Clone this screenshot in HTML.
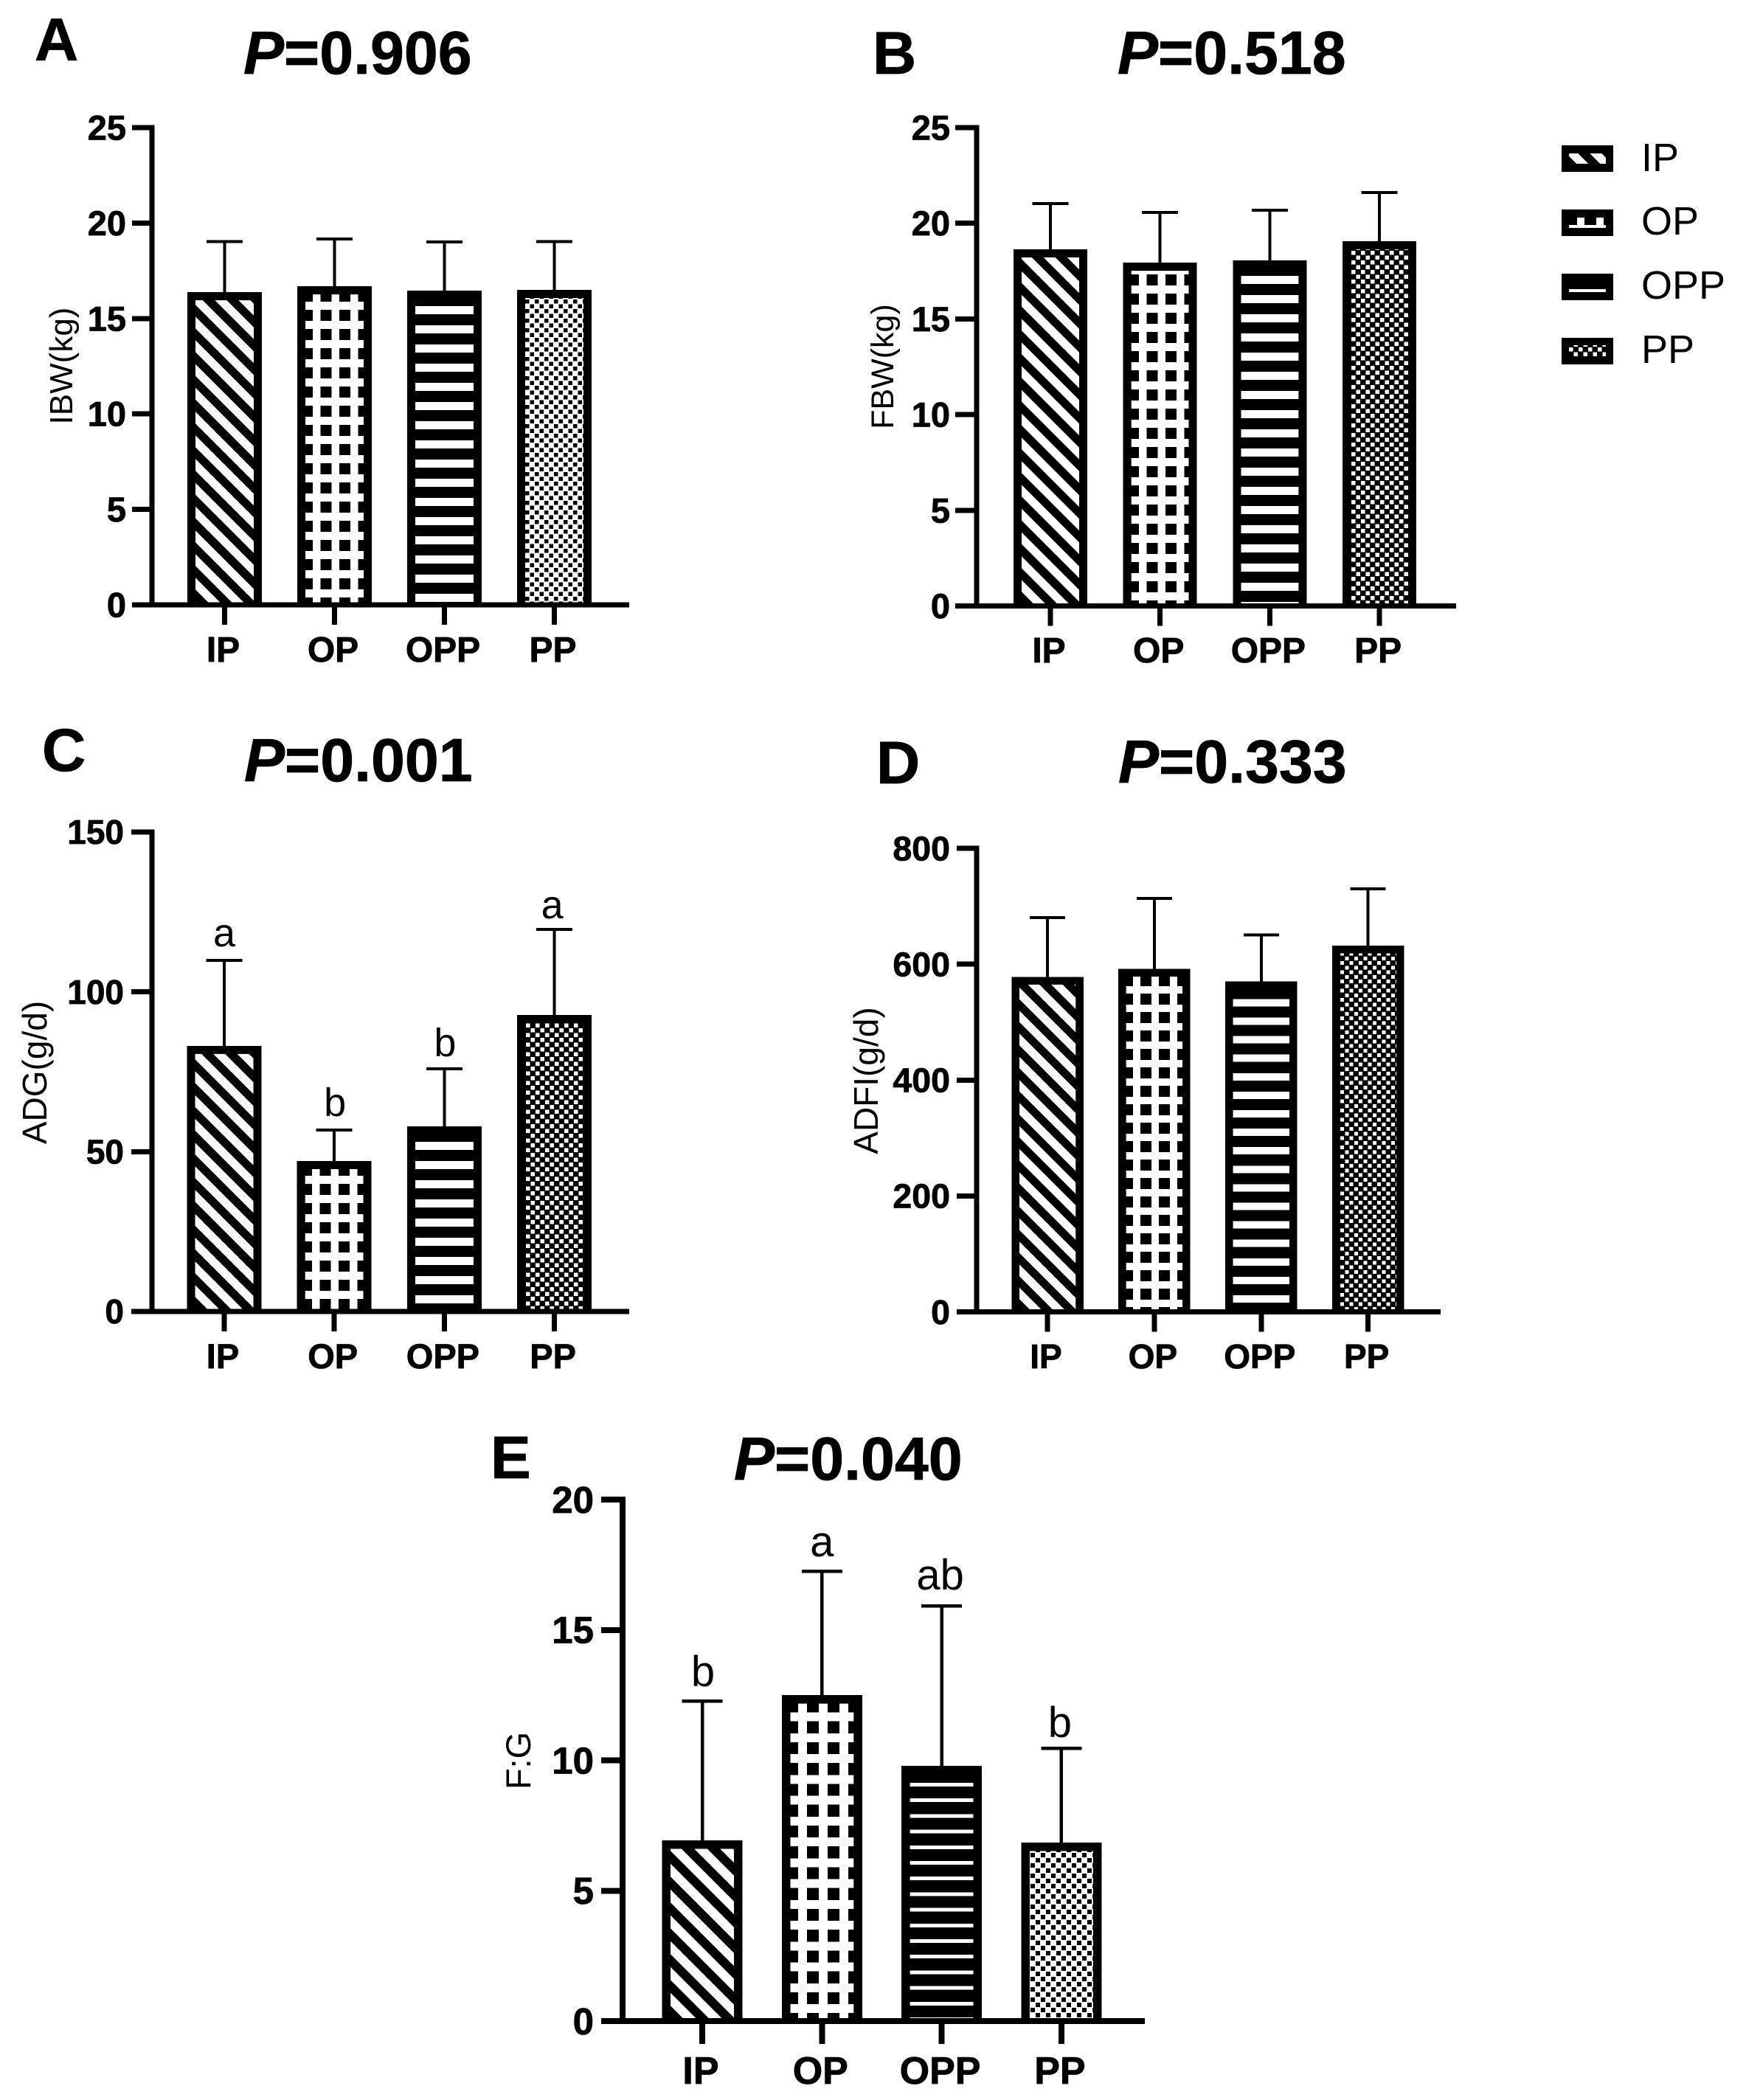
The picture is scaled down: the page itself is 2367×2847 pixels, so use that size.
<!DOCTYPE html>
<html lang="en">
<head>
<meta charset="utf-8">
<title>Growth performance bar charts</title>
<style>
html,body{margin:0;padding:0;background:#fff;}
svg{display:block;}
text{font-family:"Liberation Sans",Arial,sans-serif;fill:#000;}
.lab{font-size:82px;font-weight:700;stroke:#000;stroke-width:0.8px;}
.ttl{font-size:82.5px;font-weight:700;stroke:#000;stroke-width:0.8px;}
.ttl tspan{font-style:italic;}
.axt{font-size:44px;}
.leg{font-size:54px;}
.bold-label{stroke:#000;stroke-width:0.8px;}
</style>
</head>
<body>
<svg id="fig" xmlns="http://www.w3.org/2000/svg" width="2367" height="2847" viewBox="0 0 2367 2847">
  <rect x="0" y="0" width="2367" height="2847" fill="#fff"/>

  <text class="lab" x="47" y="82">A</text>
  <text class="lab" x="1183" y="100">B</text>
  <text class="lab" x="57" y="1045">C</text>
  <text class="lab" x="1188" y="1062">D</text>
  <text class="lab" x="665" y="2004">E</text>

  <text class="ttl" x="330" y="100"><tspan>P</tspan>=0.906</text>
  <text class="ttl" x="1515" y="100"><tspan>P</tspan>=0.518</text>
  <text class="ttl" x="331" y="1059"><tspan>P</tspan>=0.001</text>
  <text class="ttl" x="1516" y="1061"><tspan>P</tspan>=0.333</text>
  <text class="ttl" x="995" y="2006"><tspan>P</tspan>=0.040</text>

  <text class="axt" text-anchor="middle" transform="translate(98,496) rotate(-90)">IBW(kg)</text>
  <text class="axt" text-anchor="middle" style="font-size:43px" transform="translate(1211,497) rotate(-90)">FBW(kg)</text>
  <text class="axt" text-anchor="middle" style="font-size:46px" transform="translate(63,1454) rotate(-90)">ADG(g/d)</text>
  <text class="axt" text-anchor="middle" style="font-size:46px" transform="translate(1190,1465) rotate(-90)">ADFI(g/d)</text>
  <text class="axt" text-anchor="middle" style="font-size:47px" transform="translate(719,2387) rotate(-90)">F:G</text>

  <g>
    <text class="leg" x="2225" y="232">IP</text>
    <text class="leg" x="2225" y="318">OP</text>
    <text class="leg" x="2225" y="405">OPP</text>
    <text class="leg" x="2225" y="492">PP</text>
  </g>
</svg>
<script>
// ---- chart data ----
const categories = ['IP', 'OP', 'OPP', 'PP'];

const ibwMeans = [16.38, 16.69, 16.46, 16.50];
const ibwErrorTops = [19.0, 19.13, 18.97, 19.0];
const ibwTicks = [0, 5, 10, 15, 20, 25];

const fbwMeans = [18.64, 17.94, 18.06, 19.06];
const fbwErrorTops = [20.99, 20.53, 20.64, 21.57];
const fbwTicks = [0, 5, 10, 15, 20, 25];

const adgMeans = [83.1, 47.1, 57.9, 92.8];
const adgErrorTops = [109.6, 56.5, 75.7, 119.3];
const adgLetters = ['a', 'b', 'b', 'a'];
const adgTicks = [0, 50, 100, 150];

const adfiMeans = [578, 592, 570, 632];
const adfiErrorTops = [679, 712, 649, 729];
const adfiTicks = [0, 200, 400, 600, 800];

const fgMeans = [6.93, 12.5, 9.79, 6.85];
const fgErrorTops = [12.25, 17.23, 15.9, 10.44];
const fgLetters = ['b', 'a', 'ab', 'b'];
const fgTicks = [0, 5, 10, 15, 20];

// ---- drawing helpers ----
const SVGNS = 'http://www.w3.org/2000/svg';
const fig = document.getElementById('fig');
const defs = document.createElementNS(SVGNS, 'defs');
fig.appendChild(defs);
let clipCount = 0;

function make(tag, attrs, parent) {
  const el = document.createElementNS(SVGNS, tag);
  for (const k in attrs) el.setAttribute(k, attrs[k]);
  parent.appendChild(el);
  return el;
}
function rectPath(x, y, w, h) {
  return 'M' + x + ' ' + y + 'h' + w + 'v' + h + 'h' + (-w) + 'z';
}
function startIndex(from, origin, period) {
  return Math.floor((from - origin) / period) - 1;
}
// pattern path builders; each returns the path for the inner rectangle (l,t,r,b)
function diagPath(p, l, t, r, b) {
  let d = '';
  const c = p.y - p.x;
  const low = t - r - c, high = b - l - c;
  for (let k = Math.floor(low / p.P) - 1; k * p.P <= high; k++) {
    const o = c + k * p.P;
    d += 'M' + l + ' ' + (l + o) + 'L' + r + ' ' + (r + o) + 'L' + r + ' ' + (r + o + p.W) + 'L' + l + ' ' + (l + o + p.W) + 'z';
  }
  return d;
}
function barsPath(p, l, t, r, b) {
  let d = '';
  for (let k = startIndex(t, p.y, p.P); p.y + k * p.P < b; k++) {
    d += rectPath(l, p.y + k * p.P, r - l, p.h);
  }
  return d;
}
function gridPath(p, l, t, r, b) {
  let d = barsPath({ y: p.y, P: p.Py, h: p.h }, l, t, r, b);
  for (let k = startIndex(l, p.x, p.Px); p.x + k * p.Px < r; k++) {
    d += rectPath(p.x + k * p.Px, t, p.w, b - t);
  }
  return d;
}
function checkPath(p, l, t, r, b) {
  let d = '';
  const half = p.P / 2;
  for (let j = startIndex(t, p.y, half); p.y + j * half < b; j++) {
    const shift = ((j % 2) + 2) % 2 ? half : 0;
    for (let i = startIndex(l, p.x, p.P); p.x + shift + i * p.P < r; i++) {
      d += rectPath(p.x + shift + i * p.P, p.y + j * half, p.s, p.s);
    }
  }
  return d;
}
// black outlined box with a clipped pattern inside
function patternedBox(parent, name, x, y, w, h, stroke, strokeV, bottomInset, kind, p) {
  const l = x + stroke, r = x + w - stroke, t = y + strokeV, b = y + h - bottomInset;
  const box = make('rect', { x: x, y: y, width: w, height: h, fill: '#000' }, parent);
  
  
  if (b <= t) return;
  const id = 'clip' + (clipCount++);
  const cp = make('clipPath', { id: id }, defs);
  make('rect', { x: l, y: t, width: r - l, height: b - t }, cp);
  const g = make('g', { 'clip-path': 'url(#' + id + ')' }, parent);
  
  
  let d;
  if (kind === 'diag') d = diagPath(p, l, t, r, b);
  if (kind === 'bars') d = barsPath(p, l, t, r, b);
  if (kind === 'grid') d = gridPath(p, l, t, r, b);
  if (kind === 'check') d = checkPath(p, l, t, r, b);
  if (kind === 'check' && p.onWhite) {
    make('rect', { x: l, y: t, width: r - l, height: b - t, fill: '#fff' }, g);
    make('path', { d: d, fill: '#000' }, g);
  } else {
    make('path', { d: d, fill: '#fff' }, g);
  }
}

function drawPanel(cfg, means, errorTops, ticks, letters) {
  const y = v => cfg.base - v / ticks[ticks.length - 1] * (cfg.base - cfg.top);
  const x = i => cfg.x0 + i * cfg.step;
  const kinds = ['diag', 'grid', 'bars', 'check'];
  const patterns = [cfg.diag, cfg.grid, cfg.bars, cfg.check];

  const panel = make('g', { 'shape-rendering': 'crispEdges' }, fig);
  
  

  means.forEach((m, i) => {
    const cx = x(i), top = y(m), eTop = y(errorTops[i]) - 3;
    const key = cfg.name + '-' + categories[i].toLowerCase();

    const stem = make('rect', { x: cx - cfg.err / 2, y: eTop, width: cfg.err, height: top - eTop + 2, fill: '#000' }, panel);
    
    

    const cap = make('rect', { x: cx - cfg.cap / 2, y: eTop, width: cfg.cap, height: cfg.err, fill: '#000' }, panel);
    
    

    patternedBox(panel, 'bar-' + key, cx - cfg.bw / 2, top, cfg.bw, cfg.base - top, cfg.stroke, cfg.stroke, 0, kinds[i], patterns[i]);

    if (letters) {
      const s = make('text', { x: cx + cfg.letterNudgeX[i], y: eTop - cfg.letterGap + cfg.letterNudgeY[i], 'text-anchor': 'middle', 'font-size': cfg.letterSize }, fig);
      s.textContent = letters[i];
      
      
    }

    const tick = make('rect', { x: cx - cfg.axis / 2, y: cfg.base, width: cfg.axis, height: cfg.tickLen, fill: '#000' }, panel);
    
    

    const lab = make('text', { x: cx - 2, y: cfg.catY, 'text-anchor': 'middle', 'font-size': cfg.catSize, 'font-weight': 700, 'class': 'bold-label' }, fig);
    lab.textContent = categories[i];
    
    
  });

  const yAxis = make('rect', { x: cfg.axisX - cfg.axis / 2, y: cfg.top - cfg.axis / 2, width: cfg.axis, height: cfg.base - cfg.top + cfg.axis, fill: '#000' }, panel);
  
  

  const xAxis = make('rect', { x: cfg.tickLeft, y: cfg.base - cfg.axis / 2, width: cfg.axisEnd - cfg.tickLeft, height: cfg.axis, fill: '#000' }, panel);
  
  

  ticks.forEach(t => {
    const ty = y(t);
    const tk = make('rect', { x: cfg.tickLeft, y: ty - cfg.axis / 2, width: cfg.axisX - cfg.tickLeft, height: cfg.axis, fill: '#000' }, panel);
    
    

    const tl = make('text', { x: cfg.labelRight, y: ty + cfg.tickSize * 0.35, 'text-anchor': 'end', 'font-size': cfg.tickSize, 'font-weight': 700, 'class': 'bold-label' }, fig);
    tl.textContent = String(t);
    
    
  });
}

// ---- panels ----
drawPanel({
  name: 'a', top: 173, base: 820, x0: 304.5, step: 149, bw: 101, stroke: 11, err: 4, cap: 49, axis: 7,
  axisX: 206, tickLeft: 179, axisEnd: 853, tickLen: 27, labelRight: 171, tickSize: 47, catY: 897, catSize: 48,
  diag: { x: 265, y: 429.3, P: 32.2, W: 16 },
  grid: { x: 424, Px: 25.5, w: 10.5, y: 409, Py: 26, h: 11 },
  bars: { y: 415, P: 26, h: 11 },
  check: { x: 725, y: 406, P: 13, s: 5.5, onWhite: true }
}, ibwMeans, ibwErrorTops, ibwTicks);

drawPanel({
  name: 'b', top: 173, base: 821.5, x0: 1424, step: 148.7, bw: 100, stroke: 11, err: 4, cap: 49, axis: 7,
  axisX: 1324, tickLeft: 1295, axisEnd: 1974, tickLen: 27, labelRight: 1288, tickSize: 47, catY: 898, catSize: 48,
  diag: { x: 1385, y: 818.5, P: 32.2, W: 16 },
  grid: { x: 1544, Px: 25.5, w: 10.5, y: 803, Py: 26, h: 11 },
  bars: { y: 374, P: 26, h: 11 },
  check: { x: 1832, y: 340, P: 13, s: 5.5, onWhite: false }
}, fbwMeans, fbwErrorTops, fbwTicks);

drawPanel({
  name: 'c', top: 1128, base: 1778, x0: 304, step: 149.2, bw: 101, stroke: 11, err: 4, cap: 49, axis: 7,
  axisX: 206, tickLeft: 178, axisEnd: 853, tickLen: 27, labelRight: 168, tickSize: 46, catY: 1855, catSize: 47,
  letterGap: 15, letterSize: 54, letterNudgeX: [0, 1, 1, -3], letterNudgeY: [-2, -2, 0, 2],
  diag: { x: 264, y: 1774, P: 32.2, W: 16 },
  grid: { x: 423, Px: 25.5, w: 10.5, y: 1750, Py: 26, h: 11 },
  bars: { y: 1548, P: 26, h: 11 },
  check: { x: 713, y: 1777.5, P: 13, s: 5.5, onWhite: false }
}, adgMeans, adgErrorTops, adgTicks, adgLetters);

drawPanel({
  name: 'd', top: 1150, base: 1778.5, x0: 1420, step: 144.9, bw: 97.5, stroke: 10.5, err: 4, cap: 48, axis: 7,
  axisX: 1324, tickLeft: 1297, axisEnd: 1953, tickLen: 27, labelRight: 1288, tickSize: 46.5, catY: 1855, catSize: 46,
  diag: { x: 1382, y: 1526.7, P: 31.3, W: 15.7 },
  grid: { x: 1536, Px: 25, w: 10, y: 1537, Py: 25, h: 10 },
  bars: { y: 1756, P: 25.1, h: 10 },
  check: { x: 1817, y: 1778, P: 12.5, s: 5, onWhite: false }
}, adfiMeans, adfiErrorTops, adfiTicks);

drawPanel({
  name: 'e', top: 2033, base: 2740, x0: 952, step: 162.3, bw: 109, stroke: 11.5, err: 4.5, cap: 55, axis: 8,
  axisX: 844, tickLeft: 815, axisEnd: 1552, tickLen: 31, labelRight: 805, tickSize: 51, catY: 2825, catSize: 52,
  letterGap: 18, letterSize: 58, letterNudgeX: [1, 0, -2, -2], letterNudgeY: [0, 0, -2, 5],
  diag: { x: 909, y: 2527, P: 35, W: 17.4 },
  grid: { x: 1082, Px: 28, w: 12, y: 2491, Py: 28.25, h: 12 },
  bars: { y: 2417, P: 21.2, h: 5 },
  check: { x: 1397, y: 2512, P: 14, s: 6, onWhite: true }
}, fgMeans, fgErrorTops, fgTicks, fgLetters);

// ---- legend swatches ----
const legendGroup = make('g', { 'shape-rendering': 'crispEdges' }, fig);


patternedBox(legendGroup, 'legend-swatch-ip', 2117, 197, 70, 36, 10, 11, 11, 'diag', { x: 2139, y: 208, P: 32, W: 16 });
patternedBox(legendGroup, 'legend-swatch-op', 2117, 284, 70, 36, 10, 11, 11, 'grid', { x: 2138, Px: 26, w: 10, y: 305, Py: 26, h: 4 });
patternedBox(legendGroup, 'legend-swatch-opp', 2117, 371, 70, 36, 10, 11, 11, 'bars', { y: 392, P: 26, h: 4 });
patternedBox(legendGroup, 'legend-swatch-pp', 2117, 458, 70, 36, 10, 10, 10, 'check', { x: 2127, y: 471, P: 13, s: 5.5, onWhite: false });
</script>
</body>
</html>
